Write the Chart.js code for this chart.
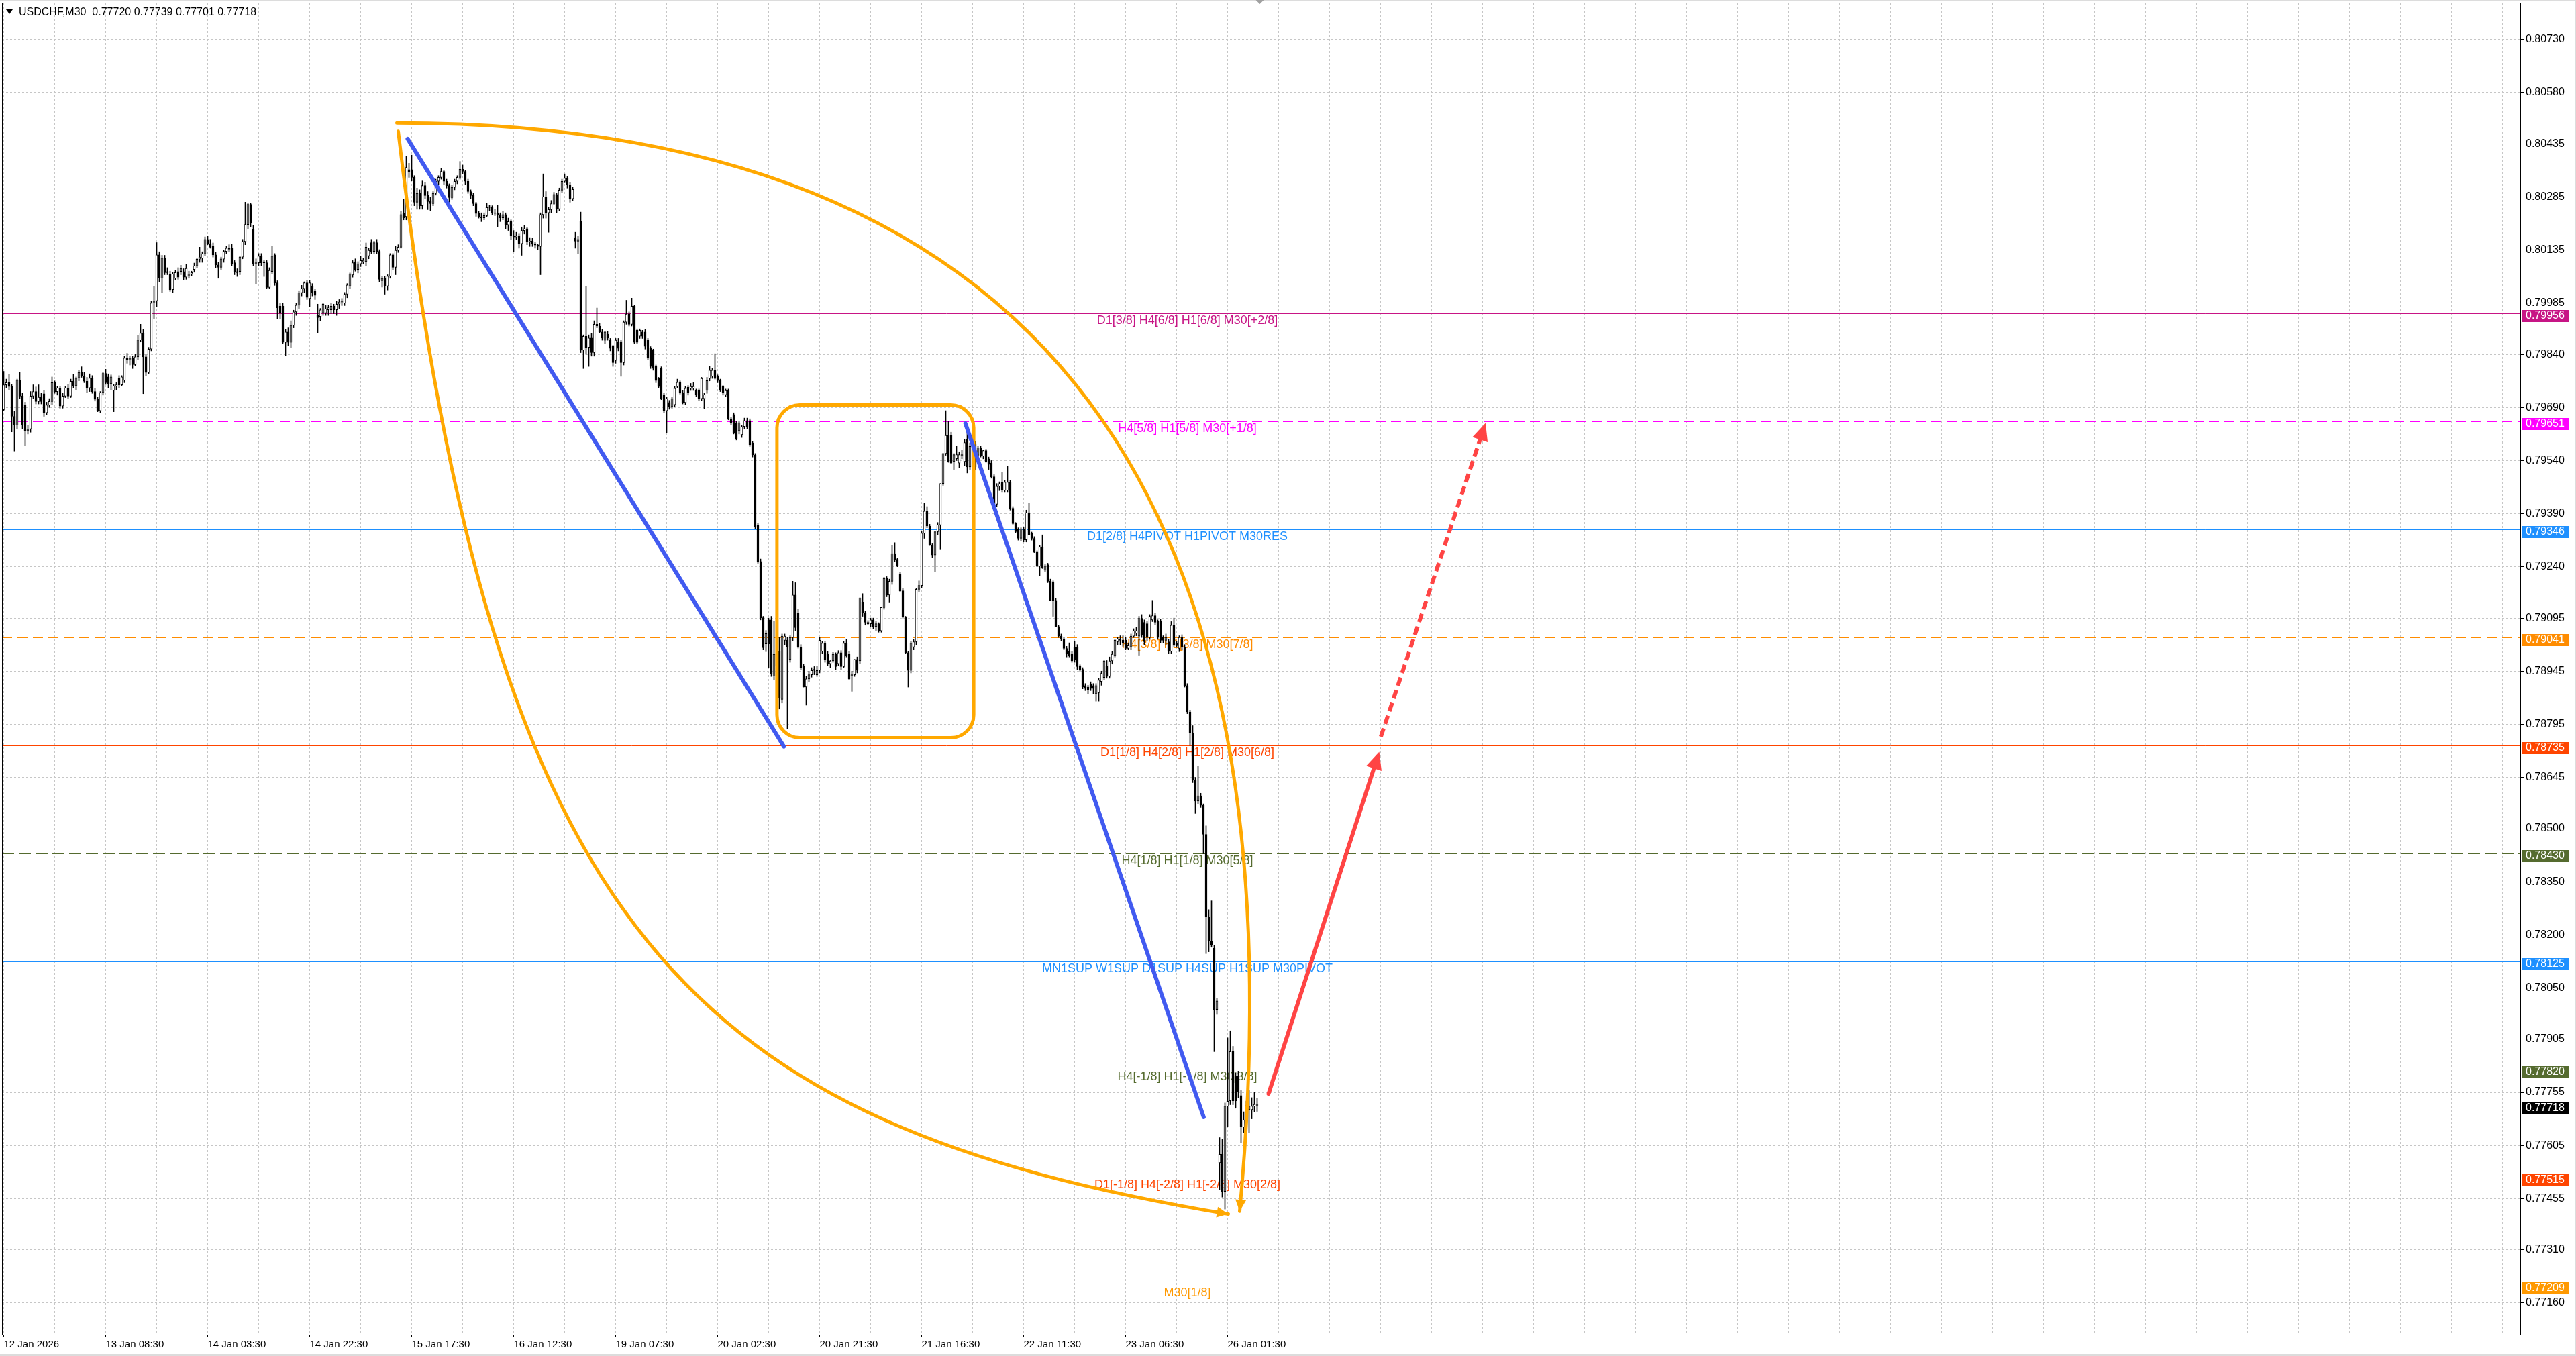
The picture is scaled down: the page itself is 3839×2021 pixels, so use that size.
<!DOCTYPE html>
<html>
<head>
<meta charset="utf-8">
<script src="https://cdn.jsdelivr.net/npm/chart.js@4.4.1/dist/chart.umd.min.js"></script>
<style>
  html, body { margin: 0; padding: 0; background: #fff; overflow: hidden; }
  #wrap { width: 3839px; height: 2021px; }
</style>
</head>
<body>
<div id="wrap"><canvas id="myChart" width="3839" height="2021"></canvas></div>
<script>
'use strict';
  // シンボルと時間足
  const symbolName = 'USDCHF,M30';

  // x軸ラベル (38本ごと)
  const xTickLabels = [
    '12 Jan 2026', '13 Jan 08:30', '14 Jan 03:30', '14 Jan 22:30', '15 Jan 17:30',
    '16 Jan 12:30', '19 Jan 07:30', '20 Jan 02:30', '20 Jan 21:30', '21 Jan 16:30',
    '22 Jan 11:30', '23 Jan 06:30', '26 Jan 01:30'
  ];
  // y軸ラベル
  const yTickValues = [
    0.80730, 0.80580, 0.80435, 0.80285, 0.80135, 0.79985, 0.79840, 0.79690, 0.79540,
    0.79390, 0.79240, 0.79095, 0.78945, 0.78795, 0.78645, 0.78500, 0.78350, 0.78200,
    0.78050, 0.77905, 0.77755, 0.77605, 0.77455, 0.77310, 0.77160
  ];

  // ローソク足 (単位: 0.00001)
  const candleOpen = [
    79684,79754,79760,79749,79665,79640,79767,79722,79697,79624,
    79629,79722,79735,79707,79719,79729,79675,79697,79707,79760,
    79735,79745,79694,79722,79745,79722,79764,79751,79773,79789,
    79779,79764,79745,79773,79735,79713,79681,79732,79786,79776,
    79757,79738,79751,79773,79754,79767,79830,79824,79830,79811,
    79833,79881,79900,79833,79789,79855,79985,79991,80121,80055,
    80112,80071,80067,80023,80055,80074,80074,80074,80058,80061,
    80067,80080,80090,80109,80112,80124,80165,80153,80147,80121,
    80093,80086,80109,80131,80140,80141,80099,80074,80074,80115,
    80159,80207,80264,80194,80096,80099,80118,80099,80099,80029,
    80074,80121,80042,79976,79976,79874,79903,79874,79922,79960,
    79979,80014,80026,80042,79998,80033,80020,79950,79947,79957,
    79957,79966,79966,79976,79966,79982,79988,79985,80010,80033,
    80064,80102,80080,80096,80102,80102,80118,80156,80131,80156,
    80131,80048,80055,80033,80061,80121,80086,80134,80143,80238,
    80229,80362,80362,80340,80270,80295,80260,80317,80289,80272,
    80266,80295,80329,80340,80357,80329,80317,80283,80312,80329,
    80340,80363,80357,80329,80300,80289,80266,80238,80229,80226,
    80232,80255,80255,80240,80238,80235,80226,80235,80206,80215,
    80175,80172,80175,80153,80190,80195,80158,80160,80153,80149,
    80145,80235,80285,80240,80249,80266,80292,80251,80304,80329,
    80338,80319,80280,80170,80160,80215,79852,79891,79860,79886,
    79845,79925,79920,79903,79880,79897,79880,79863,79823,79876,
    79876,79817,79931,79954,79925,79976,79908,79891,79903,79903,
    79880,79857,79852,79806,79772,79800,79726,79681,79704,79692,
    79698,79749,79761,79732,79704,79747,79744,79744,79738,79738,
    79715,79715,79738,79772,79778,79795,79778,79766,79749,79726,
    79738,79658,79670,79647,79624,79613,79636,79653,79653,79590,
    79556,79357,79255,79096,79022,79090,79090,78931,78993,79000,
    78865,79032,79032,78978,79040,79160,79110,79013,78958,78900,
    78923,78935,78947,78935,78947,79001,79024,78993,78966,78974,
    78993,78966,78997,78958,79024,78993,78931,78935,78978,78974,
    79140,79110,79083,79079,79090,79071,79079,79059,79125,79207,
    79160,79199,79277,79261,79219,79172,79098,78997,78947,79013,
    79028,79176,79187,79335,79397,79355,79300,79273,79339,79358,
    79475,79560,79611,79611,79537,79545,79533,79553,79537,79600,
    79522,79580,79588,79555,79576,79553,79568,79545,79533,79494,
    79417,79467,79479,79456,79456,79479,79405,79362,79347,79320,
    79347,79316,79393,79335,79320,79281,79242,79296,79230,79246,
    79199,79195,79145,79071,79044,79036,79009,79001,78993,79013,
    79013,78958,78950,78904,78900,78908,78904,78881,78884,78916,
    78927,78960,78930,78974,78989,79028,79036,79032,79032,79009,
    79013,79044,79052,79044,79094,79083,79079,79040,79090,79102,
    79086,79086,79040,79032,79028,79001,79075,79024,79009,79040,
    79013,78904,78830,78770,78637,78578,78593,78566,78484,78251,
    78182,78162,77989,77556,77580,77475,77716,77731,77870,77801,
    77801,77746,77657,77716,77706,77706,77716,77720
  ];
  const candleHigh = [
    79792,79770,79783,79755,79680,79770,79789,79730,79705,79640,
    79735,79754,79748,79754,79730,79738,79705,79715,79776,79765,
    79750,79750,79730,79750,79755,79770,79783,79776,79795,79805,
    79790,79775,79785,79780,79745,79720,79735,79790,79798,79785,
    79782,79755,79760,79780,79780,79835,79843,79835,79835,79840,
    79893,79925,79910,79840,79860,79990,80033,80156,80130,80120,
    80120,80085,80075,80072,80078,80085,80092,80082,80095,80075,
    80075,80098,80112,80143,80130,80172,80175,80165,80155,80128,
    80100,80115,80135,80145,80150,80152,80105,80082,80118,80165,
    80270,80268,80267,80205,80110,80125,80125,80105,80105,80085,
    80147,80125,80048,79985,79985,79910,79915,79935,79965,79985,
    80020,80035,80045,80050,80050,80040,80025,79982,79970,79985,
    79978,79980,79985,79982,79990,79995,79998,80015,80040,80070,
    80105,80110,80102,80118,80112,80155,80140,80165,80160,80165,
    80136,80060,80060,80065,80125,80125,80145,80150,80245,80279,
    80400,80380,80403,80345,80310,80305,80330,80325,80300,80285,
    80300,80335,80345,80365,80360,80335,80322,80318,80335,80345,
    80385,80375,80360,80335,80305,80295,80270,80245,80240,80240,
    80268,80262,80260,80250,80262,80240,80245,80240,80225,80220,
    80190,80185,80180,80200,80205,80198,80170,80168,80158,80152,
    80240,80350,80300,80255,80275,80298,80296,80310,80335,80350,
    80342,80325,80312,80185,80175,80242,79895,80033,79895,79900,
    79935,79971,79928,79910,79905,79905,79885,79866,79885,79885,
    79880,79935,79993,79960,79999,79980,79912,79912,79908,79910,
    79885,79862,79855,79810,79775,79805,79730,79720,79710,79720,
    79750,79770,79765,79738,79750,79752,79758,79760,79742,79742,
    79775,79730,79775,79806,79800,79842,79782,79770,79752,79742,
    79742,79662,79675,79650,79650,79640,79660,79660,79658,79595,
    79560,79362,79262,79100,79060,79095,79100,79086,79010,79040,
    79050,79050,79040,79045,79199,79195,79120,79020,78965,78930,
    78945,78955,78958,78960,79040,79030,79030,79000,78975,78998,
    78997,79003,79003,79030,79035,79000,78945,78978,78985,79152,
    79164,79115,79088,79095,79095,79085,79082,79125,79210,79212,
    79205,79300,79308,79265,79225,79178,79100,79000,79030,79035,
    79180,79200,79340,79420,79410,79360,79305,79340,79365,79475,
    79560,79681,79650,79620,79560,79580,79565,79570,79600,79640,
    79590,79595,79595,79580,79580,79570,79572,79550,79540,79500,
    79475,79480,79506,79485,79525,79485,79410,79365,79350,79350,
    79352,79400,79420,79338,79325,79285,79300,79330,79246,79250,
    79205,79200,79150,79075,79050,79040,79015,79025,79000,79030,
    79020,78963,78955,78910,78905,78915,78910,78910,78925,78945,
    78975,78975,78985,79000,79035,79040,79045,79045,79040,79025,
    79050,79065,79070,79100,79105,79090,79085,79105,79145,79110,
    79090,79092,79045,79050,79035,79085,79095,79030,79045,79048,
    79020,78910,78835,78791,78645,78677,78600,78570,78508,78271,
    78296,78170,78020,77627,77622,77725,77909,77929,77885,77810,
    77815,77760,77700,77730,77760,77740,77756,77739
  ];
  const candleLow = [
    79680,79745,79740,79621,79567,79630,79715,79630,79583,79615,
    79620,79715,79700,79700,79700,79665,79670,79690,79698,79730,
    79725,79688,79688,79718,79715,79718,79745,79740,79765,79775,
    79760,79732,79735,79730,79708,79678,79675,79725,79755,79745,
    79740,79678,79740,79745,79750,79760,79815,79810,79800,79808,
    79825,79875,79729,79780,79785,79850,79941,79975,80045,80014,
    80065,80065,80018,80015,80050,80052,80065,80050,80052,80055,
    80062,80072,80085,80100,80100,80118,80150,80140,80115,80085,
    80055,80080,80100,80125,80130,80090,80065,80060,80065,80110,
    80150,80195,80200,80090,80040,80090,80090,80060,80025,80025,
    80068,80035,79940,79940,79870,79836,79865,79860,79915,79950,
    79970,80005,80015,79995,79975,80005,79995,79900,79935,79950,
    79950,79950,79955,79955,79950,79970,79978,79978,80000,80025,
    80058,80075,80070,80088,80095,80090,80110,80125,80125,80125,
    80045,80030,80010,80022,80055,80078,80065,80128,80140,80220,
    80220,80340,80330,80260,80250,80250,80250,80280,80249,80245,
    80260,80290,80320,80335,80320,80310,80270,80278,80305,80322,
    80335,80350,80320,80295,80280,80260,80230,80225,80215,80220,
    80228,80245,80235,80232,80200,80215,80220,80195,80190,80165,
    80130,80165,80140,80120,80180,80150,80145,80145,80140,80135,
    80065,80225,80225,80185,80240,80262,80240,80245,80298,80325,
    80310,80270,80275,80140,80125,79845,79800,79840,79806,79835,
    79835,79915,79900,79880,79870,79880,79850,79806,79815,79850,
    79778,79810,79925,79920,79920,79870,79870,79885,79885,79855,
    79825,79800,79795,79760,79745,79712,79676,79618,79685,79688,
    79692,79745,79728,79700,79698,79725,79738,79738,79720,79710,
    79710,79687,79730,79765,79772,79770,79760,79735,79725,79720,
    79655,79640,79615,79598,79615,79605,79630,79630,79580,79550,
    79348,79250,79090,79005,79000,78954,78930,78920,78950,78838,
    78855,79020,78783,78970,79030,79060,79010,78950,78900,78849,
    78915,78928,78935,78930,78940,78995,78970,78960,78955,78970,
    78950,78960,78950,78955,78985,78920,78888,78930,78940,78965,
    79100,79075,79075,79070,79065,79060,79055,79055,79120,79155,
    79140,79190,79255,79240,79170,79095,78995,78900,78940,79005,
    79020,79170,79180,79320,79350,79300,79265,79225,79330,79290,
    79470,79555,79535,79530,79515,79540,79520,79545,79525,79505,
    79515,79560,79515,79545,79550,79545,79535,79515,79490,79410,
    79410,79455,79450,79450,79450,79400,79360,79335,79315,79312,
    79310,79310,79330,79315,79280,79240,79215,79235,79225,79195,
    79145,79100,79070,79040,79030,79005,78985,78985,78970,78970,
    78950,78945,78895,78890,78880,78890,78880,78860,78860,78905,
    78920,78925,78925,78965,78985,79020,79020,79015,79005,79005,
    79005,79040,79045,78990,79040,79020,79030,79035,79085,79075,
    79035,79025,79025,79020,78995,78995,79015,79012,79000,79005,
    78900,78825,78735,78630,78543,78570,78560,78429,78147,78152,
    78165,77870,77975,77479,77459,77425,77657,77720,77720,77710,
    77740,77612,77640,77690,77640,77680,77700,77701
  ];
  const candleClose = [
    79754,79760,79749,79665,79640,79767,79722,79640,79624,79629,
    79722,79735,79707,79719,79707,79675,79697,79707,79760,79735,
    79745,79694,79722,79745,79722,79764,79751,79773,79789,79779,
    79764,79745,79773,79735,79713,79681,79732,79786,79760,79757,
    79776,79751,79754,79754,79776,79830,79824,79830,79811,79833,
    79881,79900,79833,79789,79855,79985,79991,80121,80055,80112,
    80071,80074,80023,80067,80071,80058,80083,80058,80083,80067,
    80071,80090,80109,80115,80124,80165,80153,80143,80121,80093,
    80086,80110,80131,80140,80137,80097,80074,80071,80115,80159,
    80207,80264,80210,80096,80099,80118,80099,80102,80029,80077,
    80118,80042,79972,79957,79874,79903,79874,79922,79960,79979,
    80014,80026,80042,80001,80042,80014,80007,79944,79966,79982,
    79969,79972,79976,79966,79982,79988,79991,80010,80036,80067,
    80099,80080,80096,80105,80105,80143,80134,80131,80156,80131,
    80052,80055,80033,80061,80121,80086,80134,80143,80235,80226,
    80368,80356,80340,80270,80295,80260,80317,80289,80272,80266,
    80295,80329,80340,80357,80329,80317,80283,80312,80329,80340,
    80363,80357,80329,80300,80289,80266,80238,80229,80226,80232,
    80255,80255,80240,80238,80235,80226,80235,80206,80215,80175,
    80172,80175,80153,80190,80195,80158,80160,80153,80149,80145,
    80235,80285,80240,80249,80266,80292,80251,80304,80329,80338,
    80319,80280,80306,80160,80165,79852,79891,79860,79886,79845,
    79925,79920,79903,79886,79903,79886,79857,79817,79880,79857,
    79817,79931,79954,79925,79976,79874,79874,79908,79891,79863,
    79829,79806,79800,79766,79749,79715,79681,79715,79692,79715,
    79744,79761,79732,79704,79744,79732,79749,79749,79726,79715,
    79772,79726,79766,79795,79795,79772,79766,79738,79732,79738,
    79658,79647,79619,79602,79647,79636,79653,79636,79585,79556,
    79352,79255,79096,79011,79051,79022,78937,78993,78960,78869,
    79044,79044,79013,79040,79160,79068,79013,78954,78900,78923,
    78935,78947,78950,78947,79032,79024,78978,78966,78974,78993,
    78958,78997,78958,79024,78989,78923,78935,78978,78947,79152,
    79110,79083,79079,79090,79071,79079,79059,79125,79207,79160,
    79199,79277,79261,79242,79172,79098,78997,78947,79024,79028,
    79176,79187,79335,79397,79355,79300,79273,79339,79358,79475,
    79560,79611,79537,79533,79557,79557,79557,79557,79591,79522,
    79580,79588,79522,79576,79553,79568,79537,79529,79494,79417,
    79467,79475,79456,79479,79479,79405,79362,79339,79320,79347,
    79316,79393,79331,79320,79281,79242,79296,79238,79242,79199,
    79145,79145,79071,79044,79036,79009,78993,78989,78974,78978,
    78958,78950,78900,78896,78892,78896,78896,78904,78920,78939,
    78974,78930,78974,78993,79032,79036,79032,79024,79009,79017,
    79044,79059,79059,79094,79048,79028,79040,79100,79102,79083,
    79040,79032,79032,79040,79001,79075,79020,79017,79040,79013,
    78904,78830,78770,78637,78578,78593,78566,78484,78251,78182,
    78172,77989,78013,77580,77475,77716,77730,77870,77731,77731,
    77756,77657,77677,77716,77716,77716,77721,77718
  ];

  // 水平ライン (Murrey系レベル)
  const levelPrices = [0.79956, 0.79651, 0.79346, 0.79041, 0.78735, 0.78430, 0.78125, 0.77820, 0.77515, 0.77209];
  const levelTexts = [
    'D1[3/8] H4[6/8] H1[6/8] M30[+2/8]',
    'H4[5/8] H1[5/8] M30[+1/8]',
    'D1[2/8] H4PIVOT H1PIVOT M30RES',
    'H4[3/8] H1[3/8] M30[7/8]',
    'D1[1/8] H4[2/8] H1[2/8] M30[6/8]',
    'H4[1/8] H1[1/8] M30[5/8]',
    'MN1SUP W1SUP D1SUP H4SUP H1SUP M30PIVOT',
    'H4[-1/8] H1[-1/8] M30[3/8]',
    'D1[-1/8] H4[-2/8] H1[-2/8] M30[2/8]',
    'M30[1/8]'
  ];

  // 手描きオブジェクト (バー番号, 価格)
  const rectBars = [288.1, 361.4];
  const rectPrices = [0.79697, 0.78757];
  const blueLineBars = [[150.5, 290.7], [358.3, 447.1]];
  const blueLinePrices = [[0.80449, 0.78732], [0.79645, 0.77685]];
  const arcOuterBars = [146.5, 421.5, 481.25, 460.5];
  const arcOuterPrices = [0.80494, 0.80494, 0.79125, 0.77419];
  const arcInnerBars = [147, 182.25, 256.25, 456.25];
  const arcInnerPrices = [0.80470, 0.78195, 0.77664, 0.77411];
  const redSolidBars = [471.25, 512.5];
  const redSolidPrices = [0.77751, 0.78717];
  const redDashBars = [513.1, 552.1];
  const redDashPrices = [0.78760, 0.79646];

  // ---- 見た目の設定 ----
  const levelStyles = [
    {color: '#c71585', width: 1, dash: []},
    {color: '#ff00ff', width: 1, dash: [15, 8]},
    {color: '#1e90ff', width: 1, dash: []},
    {color: '#ff8c00', width: 1, dash: [15, 8]},
    {color: '#ff4500', width: 1, dash: []},
    {color: '#556b2f', width: 1, dash: [18, 7]},
    {color: '#1e90ff', width: 2, dash: []},
    {color: '#556b2f', width: 1, dash: [18, 7]},
    {color: '#ff4500', width: 1, dash: []},
    {color: '#ff9900', width: 1, dash: [15, 5, 3, 5]}
  ];
  const LABEL_BAR = 441;
  const ORANGE = '#ffa800';
  const BLUE = '#415af0';
  const RED = '#ff4444';
  const GRID = '#c6c6c6';

  const n = Math.min(candleOpen.length, candleHigh.length, candleLow.length, candleClose.length);
  const wickData = [];
  const bodyData = [];
  const bodyColors = [];
  for (let i = 0; i < n; i++) {
    wickData.push({x: i, y: [candleLow[i] / 1e5, candleHigh[i] / 1e5]});
    bodyData.push({x: i, y: [candleOpen[i] / 1e5, candleClose[i] / 1e5]});
    bodyColors.push(candleClose[i] >= candleOpen[i] ? '#ffffff' : '#000000');
  }
  const lastPrice = candleClose[n - 1] / 1e5;

  function px(chart, bar, price) {
    return [chart.scales.x.getPixelForValue(bar), chart.scales.y.getPixelForValue(price)];
  }

  function arrowHead(ctx, tx, ty, fx, fy, len, half) {
    const dx = tx - fx, dy = ty - fy;
    const d = Math.hypot(dx, dy) || 1;
    const ux = dx / d, uy = dy / d;
    const bx = tx - ux * len, by = ty - uy * len;
    ctx.beginPath();
    ctx.moveTo(tx, ty);
    ctx.lineTo(bx - uy * half, by + ux * half);
    ctx.lineTo(bx + uy * half, by - ux * half);
    ctx.closePath();
    ctx.fill();
  }

  function drawBezier(chart, bars, prices) {
    const ctx = chart.ctx;
    const p = bars.map((b, i) => px(chart, b, prices[i]));
    ctx.beginPath();
    ctx.moveTo(p[0][0], p[0][1]);
    ctx.bezierCurveTo(p[1][0], p[1][1], p[2][0], p[2][1], p[3][0], p[3][1]);
    ctx.stroke();
    arrowHead(ctx, p[3][0], p[3][1], p[2][0], p[2][1], 17, 8);
  }

  // 軸ラベルによる自動余白を消す
  function noPad(s) {
    s.paddingTop = 0; s.paddingBottom = 0; s.paddingLeft = 0; s.paddingRight = 0;
  }

  const mt4Plugin = {
    id: 'mt4',
    beforeDraw(chart) {
      const ctx = chart.ctx;
      ctx.save();
      ctx.fillStyle = '#ffffff';
      ctx.fillRect(0, 0, chart.width, chart.height);
      ctx.restore();
    },
    beforeDatasetsDraw(chart) {
      const {ctx, chartArea: a} = chart;
      const y = chart.scales.y;
      const x = chart.scales.x;
      ctx.save();
      ctx.beginPath();
      ctx.rect(a.left, a.top, a.right - a.left, a.bottom - a.top);
      ctx.clip();
      // 現在値ライン
      const cy = Math.round(y.getPixelForValue(lastPrice)) + 0.5;
      ctx.strokeStyle = '#c0c0c0';
      ctx.lineWidth = 1;
      ctx.beginPath(); ctx.moveTo(a.left, cy); ctx.lineTo(a.right, cy); ctx.stroke();
      // レベルライン
      levelPrices.forEach((p, i) => {
        const st = levelStyles[i];
        const ly = Math.round(y.getPixelForValue(p)) + (st.width % 2 ? 0.5 : 0);
        ctx.strokeStyle = st.color;
        ctx.lineWidth = st.width;
        ctx.setLineDash(st.dash);
        ctx.beginPath(); ctx.moveTo(a.left, ly); ctx.lineTo(a.right, ly); ctx.stroke();
      });
      ctx.setLineDash([]);
      // レベルのテキスト
      ctx.font = '18px "Liberation Sans"';
      ctx.textAlign = 'center';
      ctx.textBaseline = 'alphabetic';
      const lx = x.getPixelForValue(LABEL_BAR);
      levelPrices.forEach((p, i) => {
        ctx.fillStyle = levelStyles[i].color;
        ctx.fillText(levelTexts[i], lx, y.getPixelForValue(p) + 16);
      });
      ctx.restore();
    },
    afterDatasetsDraw(chart) {
      const {ctx, chartArea: a} = chart;
      ctx.save();
      ctx.beginPath();
      ctx.rect(a.left, a.top, a.right - a.left, a.bottom - a.top);
      ctx.clip();

      // オレンジの角丸四角
      const r0 = px(chart, rectBars[0], rectPrices[0]);
      const r1 = px(chart, rectBars[1], rectPrices[1]);
      ctx.strokeStyle = ORANGE;
      ctx.lineWidth = 5;
      ctx.beginPath();
      ctx.roundRect(r0[0], r0[1], r1[0] - r0[0], r1[1] - r0[1], 34);
      ctx.stroke();

      // オレンジの弧 (矢印付き)
      ctx.fillStyle = ORANGE;
      ctx.lineCap = 'round';
      drawBezier(chart, arcOuterBars, arcOuterPrices);
      drawBezier(chart, arcInnerBars, arcInnerPrices);

      // 青いトレンドライン
      ctx.strokeStyle = BLUE;
      ctx.lineWidth = 6;
      ctx.lineCap = 'round';
      blueLineBars.forEach((b, i) => {
        const s = px(chart, b[0], blueLinePrices[i][0]);
        const e = px(chart, b[1], blueLinePrices[i][1]);
        ctx.beginPath(); ctx.moveTo(s[0], s[1]); ctx.lineTo(e[0], e[1]); ctx.stroke();
      });

      // 赤い矢印 (実線)
      ctx.strokeStyle = RED;
      ctx.fillStyle = RED;
      ctx.lineWidth = 6;
      let s = px(chart, redSolidBars[0], redSolidPrices[0]);
      let e = px(chart, redSolidBars[1], redSolidPrices[1]);
      let d = Math.hypot(e[0] - s[0], e[1] - s[1]);
      let ex = e[0] - (e[0] - s[0]) / d * 18, ey = e[1] - (e[1] - s[1]) / d * 18;
      ctx.beginPath(); ctx.moveTo(s[0], s[1]); ctx.lineTo(ex, ey); ctx.stroke();
      arrowHead(ctx, e[0], e[1], s[0], s[1], 26, 12);

      // 赤い矢印 (破線)
      s = px(chart, redDashBars[0], redDashPrices[0]);
      e = px(chart, redDashBars[1], redDashPrices[1]);
      d = Math.hypot(e[0] - s[0], e[1] - s[1]);
      ex = e[0] - (e[0] - s[0]) / d * 18; ey = e[1] - (e[1] - s[1]) / d * 18;
      ctx.lineCap = 'butt';
      ctx.setLineDash([13, 7]);
      ctx.beginPath(); ctx.moveTo(s[0], s[1]); ctx.lineTo(ex, ey); ctx.stroke();
      ctx.setLineDash([]);
      arrowHead(ctx, e[0], e[1], s[0], s[1], 26, 12);
      ctx.restore();
    },
    afterDraw(chart) {
      const {ctx, chartArea: a} = chart;
      const y = chart.scales.y;
      const x = chart.scales.x;
      ctx.save();
      // 枠
      ctx.strokeStyle = '#000';
      ctx.lineWidth = 1;
      ctx.strokeRect(a.left + 0.5, a.top + 0.5, a.right - a.left - 1, a.bottom - a.top - 1);
      ctx.fillStyle = '#000';
      ctx.fillRect(a.right - 1, a.top, 2, a.bottom - a.top);
      // ウィンドウの縁
      ctx.fillStyle = '#dcdcdc';
      ctx.fillRect(0, chart.height - 3, chart.width, 3);
      ctx.fillRect(chart.width - 2, 0, 2, chart.height);
      ctx.fillRect(0, 0, chart.width, 1);

      // 右軸の価格ボックス
      ctx.font = '16px "Liberation Sans"';
      ctx.textAlign = 'left';
      ctx.textBaseline = 'middle';
      const boxes = levelPrices.map((p, i) => [p, levelStyles[i].color]);
      boxes.push([lastPrice, '#000000']);
      boxes.forEach(([p, col]) => {
        const by = Math.round(y.getPixelForValue(p));
        ctx.fillStyle = col;
        ctx.fillRect(a.right + 2, by - 5, 71, 18);
        ctx.fillStyle = '#ffffff';
        ctx.fillText(p.toFixed(5), a.right + 8, by + 4);
      });

      // チャートシフトのマーク
      const sx = x.getPixelForValue(n);
      ctx.fillStyle = '#a0a0a0';
      ctx.beginPath();
      ctx.moveTo(sx - 6, 0); ctx.lineTo(sx + 6, 0); ctx.lineTo(sx, 6); ctx.closePath();
      ctx.fill();

      // 左上のヘッダー
      ctx.fillStyle = '#000';
      ctx.beginPath();
      ctx.moveTo(9, 14); ctx.lineTo(19, 14); ctx.lineTo(14, 21); ctx.closePath();
      ctx.fill();
      ctx.font = '16px "Liberation Sans"';
      ctx.textBaseline = 'alphabetic';
      const last = n - 1;
      const head = symbolName + '  ' + [candleOpen[last], candleHigh[last], candleLow[last], candleClose[last]]
        .map(v => (v / 1e5).toFixed(5)).join(' ');
      ctx.fillText(head, 28, 23);
      ctx.restore();
    }
  };

  const config = {
    type: 'bar',
    data: {
      datasets: [
        {
          label: 'body',
          data: bodyData,
          backgroundColor: bodyColors,
          borderColor: '#000000',
          borderWidth: 1,
          borderSkipped: false,
          barThickness: 3,
          minBarLength: 1,
          grouped: false,
          order: 0
        },
        {
          label: 'wick',
          data: wickData,
          backgroundColor: '#000000',
          borderWidth: 0,
          barThickness: 1,
          grouped: false,
          order: 1
        }
      ]
    },
    options: {
      responsive: false,
      animation: false,
      devicePixelRatio: 1,
      events: [],
      layout: {padding: {left: 3, top: 4, right: 0, bottom: 0}},
      plugins: {legend: {display: false}, tooltip: {enabled: false}},
      scales: {
        x: {
          type: 'linear',
          min: -0.625,
          max: 937.625,
          offset: false,
          afterBuildTicks: s => {
            const t = [];
            for (let v = 0; v <= 937; v += 19) t.push({value: v});
            s.ticks = t;
          },
          afterFit: s => { s.height = 31; noPad(s); },
          grid: {
            offset: false,
            color: GRID,
            lineWidth: 1,
            drawTicks: true,
            tickLength: 3,
            tickWidth: 1,
            tickBorderDash: [],
            tickColor: c => (c.tick && c.tick.value % 38 === 0 && c.tick.value / 38 < xTickLabels.length) ? '#000' : 'rgba(0,0,0,0)'
          },
          border: {display: false, dash: [3, 3]},
          ticks: {
            autoSkip: false,
            maxRotation: 0,
            minRotation: 0,
            align: 'start',
            padding: 2,
            color: '#000',
            font: {family: 'Liberation Sans', size: 15},
            callback: v => (v % 38 === 0 && v / 38 < xTickLabels.length) ? xTickLabels[v / 38] : ''
          }
        },
        y: {
          type: 'linear',
          position: 'right',
          min: 0.770688,
          max: 0.808337,
          afterBuildTicks: s => { s.ticks = yTickValues.map(v => ({value: v})); },
          afterFit: s => { s.width = 83; noPad(s); },
          grid: {
            color: GRID,
            lineWidth: 1,
            drawTicks: true,
            tickLength: 5,
            tickWidth: 1,
            tickBorderDash: [],
            tickColor: '#000'
          },
          border: {display: false, dash: [3, 3]},
          ticks: {
            padding: 3,
            color: '#000',
            font: {family: 'Liberation Sans', size: 16},
            callback: v => Number(v).toFixed(5)
          }
        }
      }
    },
    plugins: [mt4Plugin]
  };

  const myChart = new Chart(
    document.getElementById('myChart'),
    config
  );
</script>
</body>
</html>
